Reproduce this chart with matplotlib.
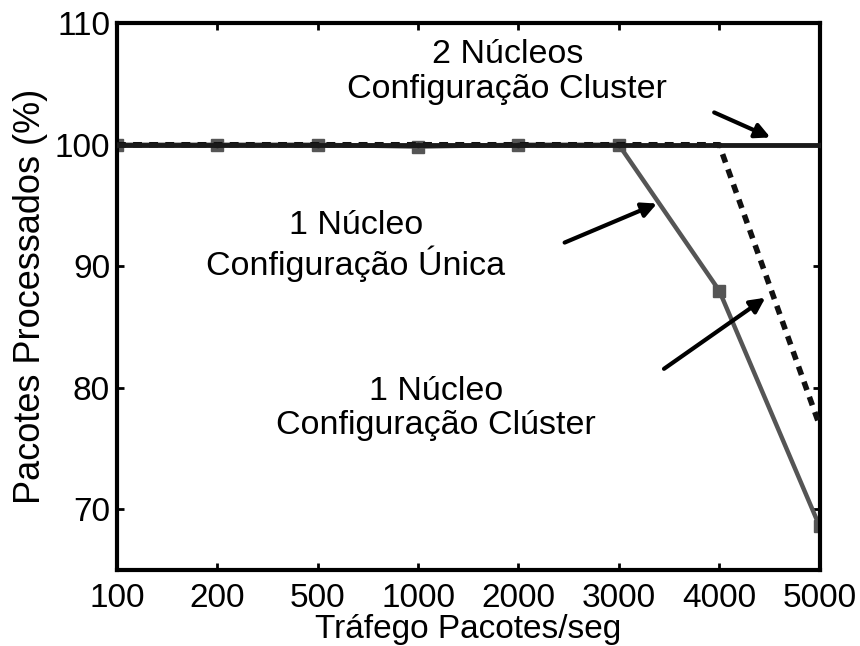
import matplotlib
matplotlib.use("Agg")
import matplotlib.pyplot as plt

plt.rcParams['font.family'] = ['Liberation Sans', 'DejaVu Sans']

categories = ['100', '200', '500', '1000', '2000', '3000', '4000', '5000']
unica = [100, 100, 100, 99.85, 100, 100, 88, 68.6]
cluster_1 = [100, 100, 100, 100, 100, 100, 100, 76.9]
cluster_2 = [100, 100, 100, 100, 100, 100, 100, 100]
yticks = [70, 80, 90, 100, 110]

fig = plt.figure(figsize=(8.6, 6.46), dpi=100)
ax = fig.add_axes([0.136, 0.1176, 0.817, 0.8464])
x = list(range(len(categories)))

ax.plot(x, unica, color='#555555', lw=3.2, marker='s', ms=8, mfc='#555555', mec='#555555', zorder=2)
ax.plot(x, cluster_1, color='#111111', lw=4, dashes=(1.6, 1.3), zorder=3)
ax.plot(x, cluster_2, color='#1a1a1a', lw=3.5, marker='.', ms=6, zorder=4)

ax.set_xlim(0, 7)
ax.set_ylim(65, 110)
ax.set_xticks(x)
ax.set_xticklabels(categories)
ax.set_yticks(yticks)
ax.tick_params(direction='in', length=5, width=2, labelsize=24, top=True, right=True)
ax.tick_params(axis='x', pad=9)
ax.tick_params(axis='y', pad=5)
for s in ax.spines.values():
    s.set_linewidth(3)
ax.set_xlabel('Tráfego Pacotes/seg', fontsize=24, labelpad=0)
ax.set_ylabel('Pacotes Processados (%)', fontsize=26, labelpad=5)

ax.text(3.89, 106, '2 Núcleos\nConfiguração Cluster', fontsize=24.5, ha='center', va='center', linespacing=1.15)
ax.text(2.38, 91.7, '1 Núcleo\nConfiguração Única', fontsize=24.5, ha='center', va='center', linespacing=1.15)
ax.text(3.18, 78.3, '1 Núcleo\nConfiguração Clúster', fontsize=24.5, ha='center', va='center', linespacing=1.15)

ap = dict(arrowstyle='-|>', color='black', lw=3, mutation_scale=22, shrinkA=0, shrinkB=0)
ax.annotate('', xy=(6.51, 100.6), xytext=(5.95, 102.66), arrowprops=ap)
ax.annotate('', xy=(5.38, 95.16), xytext=(4.46, 91.95), arrowprops=ap)
ax.annotate('', xy=(6.46, 87.41), xytext=(5.45, 81.56), arrowprops=ap)

fig.savefig('out.png', dpi=100)
